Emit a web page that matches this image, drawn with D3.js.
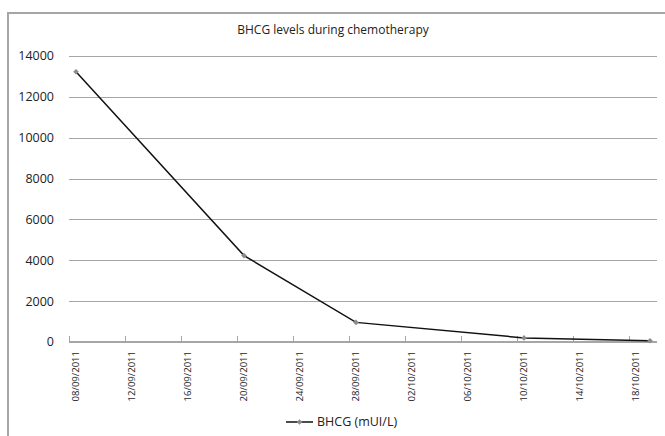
<!DOCTYPE html>
<html>
<head>
<meta charset="utf-8">
<script src="https://cdn.jsdelivr.net/npm/d3@7"></script>
<style>
  body { margin: 0; background: #fff; }
  text { font-family: "Open Sans", "Liberation Sans", sans-serif; fill: #222; }
</style>
</head>
<body>
<svg id="chart" width="665" height="436"></svg>
<script>
var dates = ["08/09/2011", "20/09/2011", "28/09/2011", "10/10/2011", "19/10/2011"];
var values = [13230, 4230, 960, 200, 60];
var yTicks = [0, 2000, 4000, 6000, 8000, 10000, 12000, 14000];
var seriesName = "BHCG (mUI/L)";
var title = "BHCG levels during chemotherapy";

var parse = d3.timeParse("%d/%m/%Y");
var fmt = d3.timeFormat("%d/%m/%Y");
var points = dates.map(function(d, i) { return { date: parse(d), value: values[i] }; });

var svg = d3.select("#chart");

// outer frame
svg.append("rect")
  .attr("x", 8).attr("y", 13)
  .attr("width", 700).attr("height", 450)
  .attr("fill", "none")
  .attr("stroke", "#a6a6a6")
  .attr("stroke-width", 2);

svg.append("text")
  .attr("x", 333).attr("y", 34)
  .attr("text-anchor", "middle")
  .style("font-size", "12px")
  .text(title);

var plotLeft = 69, plotRight = 657, plotTop = 56, plotBottom = 342;

// one category per day, 08/09 through 19/10
var start = parse("08/09/2011");
var days = d3.timeDay.range(start, d3.timeDay.offset(start, 42));
var x = d3.scaleBand()
  .domain(days.map(fmt))
  .range([plotLeft, plotRight]);

var y = d3.scaleLinear()
  .domain([0, 14000])
  .range([plotBottom, plotTop]);

// gridlines
svg.append("g")
  .selectAll("line")
  .data(yTicks.filter(function(d) { return d > 0; }))
  .enter()
  .append("line")
  .attr("x1", plotLeft).attr("x2", plotRight)
  .attr("y1", function(d) { return Math.round(y(d)) + 0.5; })
  .attr("y2", function(d) { return Math.round(y(d)) + 0.5; })
  .attr("stroke", "#a6a6a6")
  .attr("stroke-width", 1);

// y labels
svg.append("g")
  .selectAll("text")
  .data(yTicks)
  .enter()
  .append("text")
  .attr("x", 54)
  .attr("y", function(d) { return y(d); })
  .attr("dy", "0.35em")
  .attr("text-anchor", "end")
  .style("font-size", "12.5px")
  .text(function(d) { return d; });

// x axis line
svg.append("line")
  .attr("x1", plotLeft).attr("x2", plotRight)
  .attr("y1", plotBottom).attr("y2", plotBottom)
  .attr("stroke", "#a6a6a6")
  .attr("stroke-width", 2);

var labelDays = days.filter(function(d, i) { return i % 4 === 0; });

// ticks at group boundaries
svg.append("g")
  .selectAll("line")
  .data(labelDays)
  .enter()
  .append("line")
  .attr("x1", function(d) { return Math.round(x(fmt(d))) + 0.5; })
  .attr("x2", function(d) { return Math.round(x(fmt(d))) + 0.5; })
  .attr("y1", plotBottom - 6).attr("y2", plotBottom)
  .attr("stroke", "#a6a6a6");

// rotated date labels
svg.append("g")
  .selectAll("text")
  .data(labelDays)
  .enter()
  .append("text")
  .attr("transform", function(d) {
    var cx = x(fmt(d)) + x.bandwidth() / 2 + 3;
    return "translate(" + cx + ",351) rotate(-90)";
  })
  .attr("text-anchor", "end")
  .style("font-size", "9.5px")
  .text(function(d) { return fmt(d); });

// series line
var line = d3.line()
  .x(function(d) { return x(fmt(d.date)) + x.bandwidth() / 2; })
  .y(function(d) { return y(d.value); });

svg.append("path")
  .datum(points)
  .attr("d", line)
  .attr("fill", "none")
  .attr("stroke", "#111")
  .attr("stroke-width", 1.5);

// small square turned 45 degrees, like the Excel diamond marker
var diamond = d3.symbol().type(d3.symbolSquare).size(16);

svg.append("g")
  .selectAll("path")
  .data(points)
  .enter()
  .append("path")
  .attr("d", diamond)
  .attr("transform", function(d) {
    return "translate(" + (x(fmt(d.date)) + x.bandwidth() / 2) + "," + y(d.value) + ") rotate(45)";
  })
  .attr("fill", "#8c8c8c");

// legend
var lg = svg.append("g").attr("transform", "translate(286,422)");
lg.append("line")
  .attr("x1", 0).attr("x2", 27)
  .attr("stroke", "#111").attr("stroke-width", 1.5);
lg.append("path")
  .attr("d", diamond)
  .attr("transform", "translate(13.5,0) rotate(45)")
  .attr("fill", "#8c8c8c");
lg.append("text")
  .attr("x", 31).attr("dy", "0.35em")
  .style("font-size", "12.5px")
  .text(seriesName);
</script>
</body>
</html>
